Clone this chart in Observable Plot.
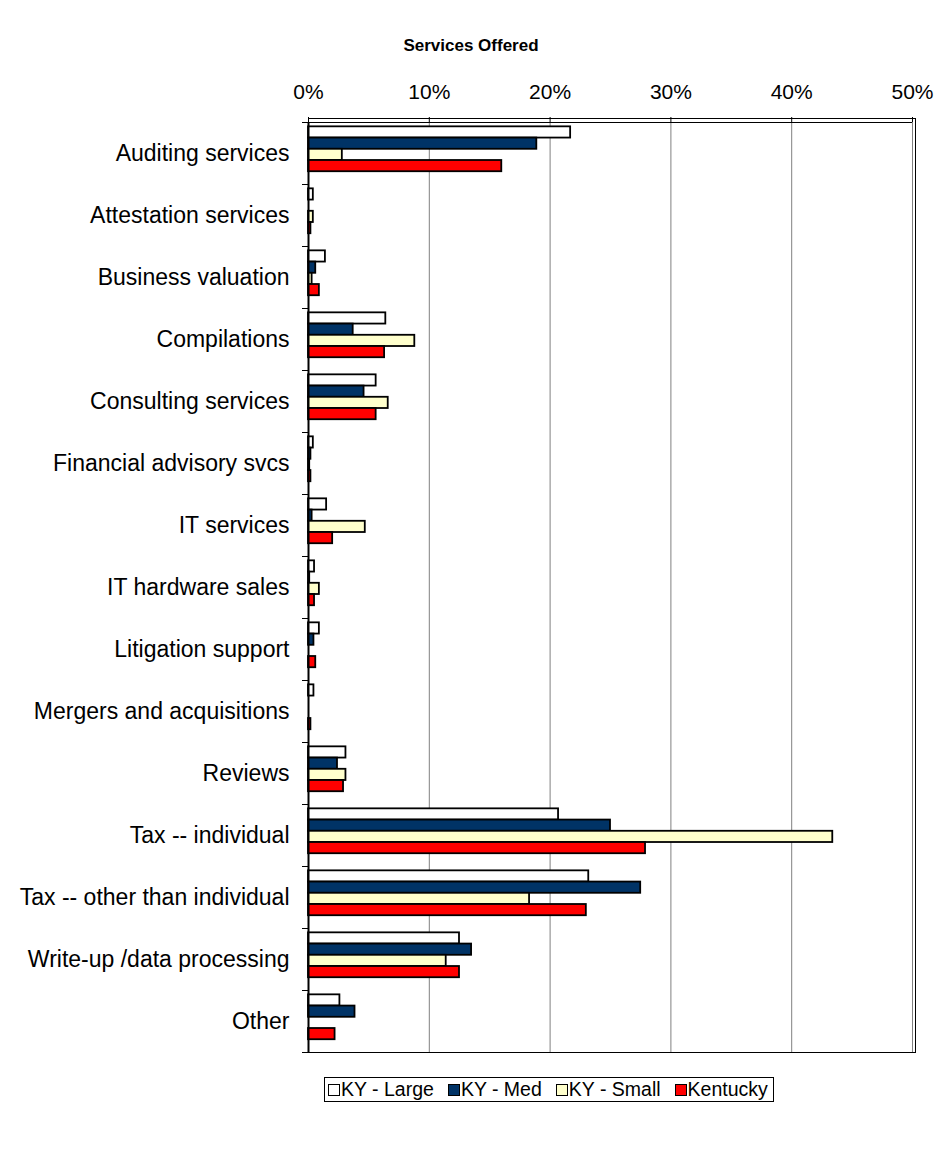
<!DOCTYPE html>
<html>
<head>
<meta charset="utf-8">
<script src="https://cdn.jsdelivr.net/npm/d3@7"></script>
<script src="https://cdn.jsdelivr.net/npm/@observablehq/plot@0.6"></script>
<style>
  body { margin: 0; background: #fff; font-family: "Liberation Sans", Arial, sans-serif; }
  #title { height: 60px; line-height: 91px; text-align: center; font-weight: bold; font-size: 17px; padding-left: 4px; box-sizing: border-box; }
  #chart svg { display: block; }
  #legend { position: absolute; left: 324px; top: 1077px; border: 1px solid #000; height: 23px; display: flex; align-items: center; padding: 0 5px 0 3px; font-size: 19.5px; }
  #legend .item { display: flex; align-items: center; margin-right: 14px; }
  #legend .item:last-child { margin-right: 0; }
  #legend .sw { width: 10px; height: 10px; border: 1.5px solid #000; margin-right: 1px; }
</style>
</head>
<body>
<div id="title">Services Offered</div>
<div id="chart"></div>
<div id="legend"></div>
<script>
const categories = [
  "Auditing services", "Attestation services", "Business valuation", "Compilations",
  "Consulting services", "Financial advisory svcs", "IT services", "IT hardware sales",
  "Litigation support", "Mergers and acquisitions", "Reviews", "Tax -- individual",
  "Tax -- other than individual", "Write-up /data processing", "Other"
];
const seriesNames = ["KY - Large", "KY - Med", "KY - Small", "Kentucky"];
const seriesColors = ["#FFFFFF", "#003366", "#FFFFCC", "#FF0000"];

// percent of firms, per category (same order as categories)
const kyLarge    = [21.7, 0.4, 1.4, 6.4, 5.6, 0.4, 1.5, 0.5, 0.9, 0.45, 3.1, 20.7, 23.2, 12.5, 2.6];
const kyMed      = [18.9, 0.0, 0.6, 3.7, 4.6, 0.2, 0.3, 0.1, 0.45, 0.0, 2.4, 25.0, 27.5, 13.5, 3.85];
const kySmall    = [2.8, 0.4, 0.3, 8.8, 6.6, 0.1, 4.7, 0.9, 0.0, 0.0, 3.1, 43.4, 18.3, 11.4, 0.0];
const kentucky   = [16.0, 0.2, 0.9, 6.3, 5.6, 0.2, 2.0, 0.5, 0.6, 0.2, 2.9, 27.9, 23.0, 12.5, 2.2];
const xTicks = [0, 10, 20, 30, 40, 50];

const seriesValues = [kyLarge, kyMed, kySmall, kentucky];
const barOffset = 0.07;   // fraction of a category band before the first bar
const barSize = 0.181;    // fraction of a category band per bar

const rows = [];
categories.forEach((c, i) => {
  seriesNames.forEach((s, k) => {
    rows.push({category: c, idx: i, series: s, k, value: seriesValues[k][i]});
  });
});
const bars = rows.filter(d => d.value > 0);

const chart = Plot.plot({
  width: 938,
  height: 1000,
  marginTop: 62,
  marginBottom: 8,
  marginLeft: 308,
  marginRight: 26,
  style: {fontFamily: "Liberation Sans, Arial, sans-serif", fontSize: "21px", color: "#000", background: "#fff"},
  x: {
    domain: [0, 50],
    axis: "top",
    ticks: xTicks,
    tickFormat: d => d + "%",
    tickSize: 6,
    tickPadding: 18,
    label: null,
    grid: false
  },
  y: {
    domain: [0, categories.length],
    reverse: true,
    axis: "left",
    ticks: d3.range(categories.length + 1),
    tickFormat: () => "",
    tickSize: 6,
    label: null
  },
  color: {domain: seriesNames, range: seriesColors},
  marks: [
    Plot.ruleX(xTicks.slice(1), {stroke: "#808080", strokeWidth: 1}),
    Plot.frame({stroke: "#000", strokeWidth: 1, insetTop: -4, insetRight: -3}),
    Plot.ruleY([0], {stroke: "#000", strokeWidth: 1}),
    Plot.rect(bars, {
      x1: () => 0,
      x2: "value",
      y1: d => d.idx + barOffset + d.k * barSize,
      y2: d => d.idx + barOffset + (d.k + 1) * barSize,
      fill: "series",
      stroke: "#000",
      strokeWidth: 1.8
    }),
    Plot.ruleX([0], {stroke: "#000", strokeWidth: 2}),
    Plot.text(categories, {
      x: () => 0,
      y: (d, i) => i + 0.5,
      text: d => d,
      textAnchor: "end",
      dx: -19,
      fontSize: 23,
      fill: "#000"
    })
  ]
});
document.getElementById("chart").appendChild(chart);

const legend = document.getElementById("legend");
seriesNames.forEach((s, k) => {
  const item = document.createElement("div");
  item.className = "item";
  const sw = document.createElement("div");
  sw.className = "sw";
  sw.style.background = seriesColors[k];
  const t = document.createElement("span");
  t.textContent = s;
  item.appendChild(sw);
  item.appendChild(t);
  legend.appendChild(item);
});
</script>
</body>
</html>
